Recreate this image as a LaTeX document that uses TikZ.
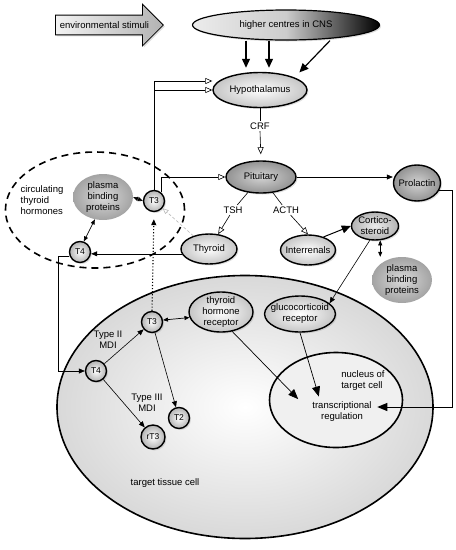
\documentclass[tikz,border=0pt]{standalone}
\usepackage{fontspec}
\setmainfont{Liberation Sans}
\usetikzlibrary{arrows.meta, positioning, shapes.geometric, shapes.arrows, shadows}

\begin{document}
\begin{tikzpicture}[x=1pt, y=-1pt, font=\fontsize{9.5}{11}\selectfont]
    \tikzstyle{soft} = [drop shadow={opacity=0.25, shadow xshift=1.5pt, shadow yshift=-1.5pt}]
    \tikzstyle{organ} = [ellipse, draw, line width=1.4pt, inner sep=0pt, align=center, soft]
    \tikzstyle{pale} = [organ, inner color=white, outer color=gray!45]
    \tikzstyle{dark} = [organ, inner color=gray!35, outer color=gray!85]
    \tikzstyle{hormone} = [circle, draw, line width=1.4pt, inner sep=0pt, minimum size=21pt, inner color=white, outer color=gray!60, font=\fontsize{8.5}{9}\selectfont, soft]
    \tikzstyle{binder} = [ellipse, inner color=gray!30, outer color=gray!72, align=center, minimum width=60pt, minimum height=46pt, inner sep=0pt]
    \tikzstyle{tag} = [inner sep=1.5pt, align=center]
    \tikzstyle{feed} = [line width=0.6pt, -{Triangle[open, fill=white, length=7pt, width=6pt]}]
    \tikzstyle{link} = [line width=0.6pt, -{Triangle[length=6pt, width=5pt]}]
    \tikzstyle{heavy} = [line width=1.2pt, -{Triangle[length=9pt, width=8pt]}]
    \tikzstyle{bigtip} = [line width=0.7pt, -{Triangle[length=10pt, width=8pt]}]
    \tikzstyle{both} = [line width=0.7pt, {Triangle[length=5pt, width=4pt]}-{Triangle[length=5pt, width=4pt]}]
    \useasboundingbox (0,0) rectangle (456,550);

    % target cell
    \node[ellipse, draw, line width=1.6pt, inner color=white, outer color=gray!30, minimum width=376pt, minimum height=263pt] (cell) at (245,407) {};
    \node[ellipse, draw, line width=1.6pt, fill=gray!12, minimum width=133pt, minimum height=95pt] (nucleus) at (336,400) {};
    \node[tag, align=left] (nuctext) at (363,381) {nucleus of\\target cell};
    \node[tag] (transc) at (342,412) {transcriptional\\regulation};
    \node[tag] (celltext) at (165,483) {target tissue cell};

    % circulating hormones
    \node[ellipse, draw, line width=1.6pt, dash pattern=on 7pt off 5pt, minimum width=179pt, minimum height=116pt] (pool) at (95,210) {};
    \node[tag, align=left] (pooltext) at (42,200) {circulating\\thyroid\\hormones};

    % top
    \node[single arrow, draw, line width=0.8pt, single arrow head extend=11pt, inner ysep=6pt, inner xsep=4pt, anchor=tail, left color=gray!10, right color=gray!60, soft] (env) at (55,25) {environmental stimuli};
    \node[ellipse, draw, line width=1.2pt, left color=gray!15, right color=black, middle color=gray!40, minimum width=187pt, minimum height=30pt, soft] (cns) at (286,25) {higher centres in CNS};
    \node[pale, minimum width=94pt, minimum height=35pt] (hypo) at (260,90) {Hypothalamus};
    \node[tag] (crf) at (260,126) {CRF};
    \node[dark, minimum width=70pt, minimum height=32pt] (pit) at (261,177) {Pituitary};
    \node[dark, inner xsep=-2pt, minimum width=47pt, minimum height=36pt] (prl) at (417,183) {Prolactin};
    \node[tag] (tsh) at (233,210) {TSH};
    \node[tag] (acth) at (286,210) {ACTH};
    \node[pale, minimum width=56pt, minimum height=30pt] (thy) at (209,249) {Thyroid};
    \node[pale, inner xsep=-3pt, minimum width=54pt, minimum height=30pt] (inter) at (308,250) {Interrenals};
    \node[organ, inner color=gray!15, outer color=gray!60, minimum width=46pt, minimum height=28pt] (cort) at (375,226) {Cortico-\\steroid};
    \node[binder] (pbr) at (402,280) {plasma\\binding\\proteins};
    \node[binder] (pbl) at (103,197) {plasma\\binding\\proteins};
    \node[hormone] (t3out) at (154,201) {T3};
    \node[hormone] (t4out) at (80,252) {T4};

    % inside the cell
    \node[pale, inner ysep=-2pt, minimum width=64pt, minimum height=40pt] (thr) at (221,312) {thyroid\\hormone\\receptor};
    \node[pale, inner xsep=-4pt, minimum width=70pt, minimum height=36pt] (gcr) at (300,314) {glucocorticoid\\receptor};
    \node[hormone] (t3in) at (152,322) {T3};
    \node[hormone] (t4in) at (96,371) {T4};
    \node[hormone] (t2) at (179,418) {T2};
    \node[hormone, minimum size=24pt] (rt3) at (153,437) {rT3};
    \node[tag] (type2) at (108,340) {Type II\\MDI};
    \node[tag] (type3) at (147,403) {Type III\\MDI};

    % connectors
    \draw[heavy, shorten >=4pt] ([xshift=-40pt]cns.south) -- ([xshift=-14pt]hypo.north);
    \draw[heavy, shorten >=4pt] ([xshift=-17pt]cns.south) -- ([xshift=9pt]hypo.north);
    \draw[heavy, shorten >=7pt] ([xshift=44pt]cns.south) -- (hypo.20);
    \draw[feed] (t3out.north) |- ([yshift=9pt]hypo.west);
    \draw[feed] (t3out.north |- hypo.west) -- (hypo.west);
    \draw[feed] (t3out.50) |- (pit.west);
    \draw[line width=0.6pt] (hypo.south) -- (crf.north);
    \draw[feed, shorten >=6pt] (crf.south) -- (pit.north);
    \draw[line width=0.6pt] (pit) -- (tsh);
    \draw[feed] (tsh) -- (thy);
    \draw[line width=0.6pt] (pit) -- (acth);
    \draw[feed] (acth) -- (inter.north);
    \draw[link] (pit.east) -- (pit.east -| prl.west);
    \draw[bigtip, line width=1pt, shorten >=4pt] (prl.-20) -- ++(14,0) |- ([yshift=5pt]transc.east);
    \draw[heavy, line width=1pt] (inter.40) -- (cort.west);
    \draw[both] (cort.-70) -- (cort.-70 |- pbr.north);
    \draw[link] (cort.-110) -- (gcr.20);
    \draw[bigtip, shorten >=4pt] (gcr.south) -- ([xshift=-22pt]transc.north);
    \draw[bigtip, shorten >=18pt] (thr.-60) -- (transc.west);
    \draw[link] (thy.190) -- (thy.190 -| t4out.east);
    \draw[link] (t4out.200) -- ++(-11,0) |- (t4in.west);
    \draw[both] (pbl.east) -- (t3out.west);
    \draw[both] (pbl.-110) -- (t4out.70);
    \draw[gray!55, line width=0.6pt, densely dashed, -{Triangle[open, length=6pt, width=5pt]}] (thy.140) -- (t3out.-40);
    \draw[line width=1.1pt, dotted, shorten >=7pt, -{Triangle[length=6pt, width=5pt]}] (t3in.north) -- (t3out.south);
    \draw[both] (t3in.10) -- (thr.190);
    \draw[link] (t4in) -- (t3in);
    \draw[link] (t3in) -- (t2);
    \draw[link] (t4in) -- (rt3);
\end{tikzpicture}
\end{document}
